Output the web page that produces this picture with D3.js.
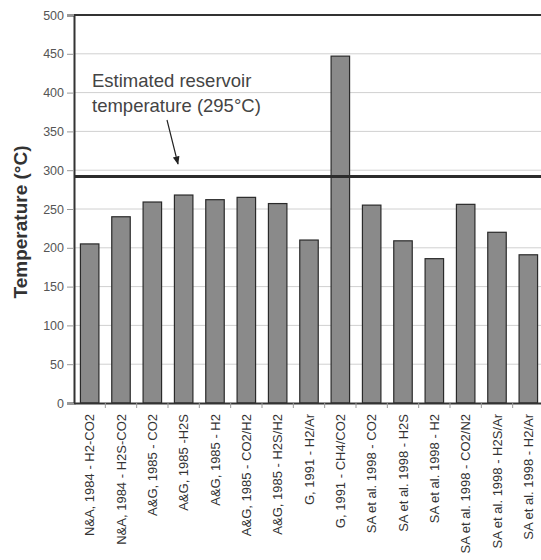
<html>
<head>
  <script src="https://cdnjs.cloudflare.com/ajax/libs/d3/7.8.5/d3.min.js"></script>
  <meta charset="UTF-8">
  <style>
  body { margin: 0; background: #fff; font-family: "Liberation Sans", Arial, sans-serif; }
  </style>
</head>
<body>
<div id="chart"></div>
<script>

// categories (geothermometer, year - gas pair)
const categories = [
  'N&A, 1984 - H2-CO2',
  'N&A, 1984 - H2S-CO2',
  'A&G, 1985 - CO2',
  'A&G, 1985 -H2S',
  'A&G, 1985 - H2',
  'A&G, 1985 - CO2/H2',
  'A&G, 1985 - H2S/H2',
  'G, 1991 - H2/Ar',
  'G, 1991 - CH4/CO2',
  'SA et al. 1998 - CO2',
  'SA et al. 1998 - H2S',
  'SA et al. 1998 - H2',
  'SA et al. 1998 - CO2/N2',
  'SA et al. 1998 - H2S/Ar',
  'SA et al. 1998 - H2/Ar'
];
// temperatures in °C
const temps = [205, 240, 259, 268, 262, 265, 257, 210, 447, 255, 209, 186, 256, 220, 191];
const yTicks = [0, 50, 100, 150, 200, 250, 300, 350, 400, 450, 500];
const reservoirTemp = 292;
const noteLines = ['Estimated reservoir', 'temperature (295°C)'];

const width = 541, height = 560;
const margin = {top: 15, left: 74, bottom: 157, right: -3};

const svg = d3.select('#chart').append('svg')
  .attr('width', width)
  .attr('height', height);

const x = d3.scaleBand()
  .domain(categories)
  .range([margin.left, width - margin.right])
  .paddingInner(0.41)
  .paddingOuter(0.205);

const y = d3.scaleLinear()
  .domain([0, 500])
  .range([height - margin.bottom, margin.top]);

// grid
svg.append('g')
  .selectAll('line')
  .data(yTicks.slice(1))
  .join('line')
    .attr('x1', margin.left)
    .attr('x2', width)
    .attr('y1', d => y(d))
    .attr('y2', d => y(d))
    .attr('stroke', '#d0d0d0')
    .attr('stroke-width', 1);

// bars
svg.append('g')
  .selectAll('rect')
  .data(temps)
  .join('rect')
    .attr('x', (d, i) => x(categories[i]))
    .attr('y', d => y(d))
    .attr('width', x.bandwidth())
    .attr('height', d => y(0) - y(d))
    .attr('fill', '#8a8a8a')
    .attr('stroke', '#2a2a2a')
    .attr('stroke-width', 1.2);

// top frame
svg.append('line')
  .attr('x1', margin.left).attr('x2', width)
  .attr('y1', y(500)).attr('y2', y(500))
  .attr('stroke', '#333').attr('stroke-width', 2);

// reservoir line
svg.append('line')
  .attr('x1', margin.left).attr('x2', width)
  .attr('y1', y(reservoirTemp)).attr('y2', y(reservoirTemp))
  .attr('stroke', '#2b2b2b').attr('stroke-width', 3);

// y axis
const yAxis = svg.append('g')
  .attr('transform', `translate(${margin.left},0)`)
  .call(d3.axisLeft(y).tickValues(yTicks).tickSize(7).tickPadding(3));
yAxis.select('.domain').attr('stroke', '#333').attr('stroke-width', 2);
yAxis.selectAll('.tick line').attr('stroke', '#999');
yAxis.selectAll('.tick text')
  .attr('fill', '#555')
  .style('font-size', '12.5px')
  .style('font-family', '"Liberation Sans", Arial, sans-serif');

// x axis
const xAxis = svg.append('g')
  .attr('transform', `translate(0,${y(0)})`)
  .call(d3.axisBottom(x).tickSize(0).tickPadding(0));
xAxis.select('.domain').attr('stroke', '#333').attr('stroke-width', 2);
xAxis.selectAll('.tick text')
  .attr('fill', '#333')
  .attr('transform', 'translate(0,11) rotate(-90)')
  .attr('text-anchor', 'end')
  .attr('dy', '0.35em')
  .attr('y', 0)
  .style('font-size', '13px')
  .style('font-family', '"Liberation Sans", Arial, sans-serif');

// category separators below the axis
const step = x.step();
svg.append('g')
  .selectAll('line')
  .data(categories.slice(1))
  .join('line')
    .attr('x1', d => x(d) - step * x.paddingInner() / 2)
    .attr('x2', d => x(d) - step * x.paddingInner() / 2)
    .attr('y1', y(0))
    .attr('y2', y(0) + 5)
    .attr('stroke', '#999');

// y title
svg.append('text')
  .attr('transform', `translate(27,222) rotate(-90)`)
  .attr('text-anchor', 'middle')
  .attr('fill', '#333')
  .style('font-size', '19px')
  .style('font-weight', 'bold')
  .text('Temperature (°C)');

// annotation
svg.append('g')
  .selectAll('text')
  .data(noteLines)
  .join('text')
    .attr('x', 92)
    .attr('y', (d, i) => 87 + i * 25)
    .attr('fill', '#444')
    .style('font-size', '18.5px')
    .text(d => d);

svg.append('defs').append('marker')
  .attr('id', 'arr')
  .attr('viewBox', '0 0 10 10')
  .attr('refX', 9).attr('refY', 5)
  .attr('markerWidth', 7).attr('markerHeight', 7)
  .attr('orient', 'auto')
  .append('path')
    .attr('d', 'M0,1 L10,5 L0,9 Z')
    .attr('fill', '#222');

svg.append('line')
  .attr('x1', 167).attr('y1', 120)
  .attr('x2', 178).attr('y2', 164)
  .attr('stroke', '#222')
  .attr('stroke-width', 1.2)
  .attr('marker-end', 'url(#arr)');

</script>
</body>
</html>
